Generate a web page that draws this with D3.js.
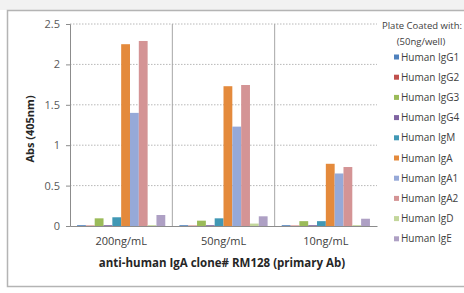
<!DOCTYPE html>
<html>
<head>
<meta charset="utf-8">
<script src="https://cdn.jsdelivr.net/npm/d3@7"></script>
<style>
  body { margin: 0; background: #fff; }
  text { font-family: "Open Sans", "Noto Sans", sans-serif; }
</style>
</head>
<body>
<script>
'use strict';

// categories (x axis groups)
const groups = ["200ng/mL", "50ng/mL", "10ng/mL"];
// series (plate coatings)
const series = ["Human IgG1", "Human IgG2", "Human IgG3", "Human IgG4", "Human IgM",
  "Human IgA", "Human IgA1", "Human IgA2", "Human IgD", "Human IgE"];
const colors = ["#4f81bd", "#c0504d", "#9bbb59", "#8064a2", "#4198b5",
  "#e48a3c", "#96a9d8", "#d49495", "#c3d69b", "#aea0c4"];
// values per series, one per group
const IgG1 = [0.01, 0.01, 0.01];
const IgG2 = [0.005, 0.005, 0.005];
const IgG3 = [0.095, 0.066, 0.06];
const IgG4 = [0.01, 0.01, 0.01];
const IgM = [0.108, 0.095, 0.06];
const IgA = [2.25, 1.73, 0.77];
const IgA1 = [1.40, 1.23, 0.65];
const IgA2 = [2.29, 1.745, 0.73];
const IgD = [0.01, 0.03, 0.01];
const IgE = [0.136, 0.12, 0.09];
const yTicks = [0, 0.5, 1, 1.5, 2, 2.5];

const allValues = [IgG1, IgG2, IgG3, IgG4, IgM, IgA, IgA1, IgA2, IgD, IgE];

const svg = d3.select('body').append('svg')
  .attr('width', 464)
  .attr('height', 293);

// outer frame
svg.append('rect')
  .attr('x', 0).attr('y', 0).attr('width', 464).attr('height', 10)
  .attr('fill', '#f2f2f2');
svg.append('rect')
  .attr('x', 7.5).attr('y', 10.5).attr('width', 470).attr('height', 276)
  .attr('fill', '#fff')
  .attr('stroke', '#b4b4b4')
  .attr('stroke-width', 1.5);

const plot = {left: 70, right: 377, top: 24, bottom: 226};

const x0 = d3.scaleBand()
  .domain(groups)
  .range([plot.left, plot.right]);

const x1 = d3.scaleBand()
  .domain(series)
  .range([0, x0.bandwidth()])
  .paddingOuter(0.8);

const y = d3.scaleLinear()
  .domain([0, 2.5])
  .range([plot.bottom, plot.top]);

// horizontal dotted grid
svg.append('g')
  .selectAll('line')
  .data(yTicks.slice(1))
  .join('line')
  .attr('x1', plot.left).attr('x2', plot.right)
  .attr('y1', d => y(d)).attr('y2', d => y(d))
  .attr('stroke', '#b8b8b8')
  .attr('stroke-dasharray', '1.5,1.5');

// vertical separators between groups
svg.append('g')
  .selectAll('line')
  .data(groups.slice(1))
  .join('line')
  .attr('x1', d => x0(d))
  .attr('x2', d => x0(d))
  .attr('y1', plot.top).attr('y2', plot.bottom)
  .attr('stroke', '#a6a6a6');

// y axis
const yAxis = svg.append('g')
  .attr('transform', 'translate(' + plot.left + ',0)')
  .call(d3.axisLeft(y).tickValues(yTicks).tickSize(4).tickFormat(d3.format('')));
yAxis.select('.domain').attr('stroke', '#8c8c8c');
yAxis.selectAll('.tick line').attr('stroke', '#8c8c8c');
yAxis.selectAll('text')
  .attr('x', -10)
  .style('font-size', '11px')
  .attr('fill', '#595959');

// x axis
const xAxis = svg.append('g')
  .attr('transform', 'translate(0,' + plot.bottom + ')')
  .call(d3.axisBottom(x0).tickSize(0));
xAxis.select('.domain').attr('stroke', '#8c8c8c');
xAxis.selectAll('text')
  .attr('y', 11)
  .style('font-size', '11px')
  .attr('fill', '#404040');

// bars
const grp = svg.append('g')
  .selectAll('g')
  .data(groups)
  .join('g')
  .attr('transform', d => 'translate(' + x0(d) + ',0)');

grp.selectAll('rect')
  .data((g, gi) => series.map((s, si) => ({s: s, si: si, v: allValues[si][gi]})))
  .join('rect')
  .attr('x', d => x1(d.s))
  .attr('width', x1.bandwidth())
  .attr('y', d => y(d.v))
  .attr('height', d => y(0) - y(d.v))
  .attr('fill', d => colors[d.si]);

// axis titles
svg.append('text')
  .attr('transform', 'translate(34,' + ((plot.top + plot.bottom) / 2 + 4) + ')rotate(-90)')
  .attr('text-anchor', 'middle')
  .style('font-size', '11px')
  .style('font-weight', 'bold')
  .attr('fill', '#262626')
  .text('Abs (405nm)');

svg.append('text')
  .attr('x', 222)
  .attr('y', 267)
  .attr('text-anchor', 'middle')
  .style('font-size', '11.5px')
  .style('font-weight', 'bold')
  .attr('fill', '#262626')
  .text('anti-human IgA clone# RM128 (primary Ab)');

// legend
svg.append('text')
  .attr('x', 422).attr('y', 29)
  .attr('text-anchor', 'middle')
  .style('font-size', '9.5px')
  .attr('fill', '#404040')
  .text('Plate Coated with:');
svg.append('text')
  .attr('x', 421).attr('y', 45)
  .attr('text-anchor', 'middle')
  .style('font-size', '9.5px')
  .attr('fill', '#404040')
  .text('(50ng/well)');

const legend = svg.append('g')
  .selectAll('g')
  .data(series)
  .join('g')
  .attr('transform', (d, i) => 'translate(394,' + (57 + i * 20.2) + ')');
legend.append('rect')
  .attr('x', 0).attr('y', -2.5)
  .attr('width', 5).attr('height', 5)
  .attr('fill', (d, i) => colors[i]);
legend.append('text')
  .attr('x', 7).attr('y', 3.5)
  .style('font-size', '10px')
  .attr('fill', '#404040')
  .text(d => d);
</script>
</body>
</html>
